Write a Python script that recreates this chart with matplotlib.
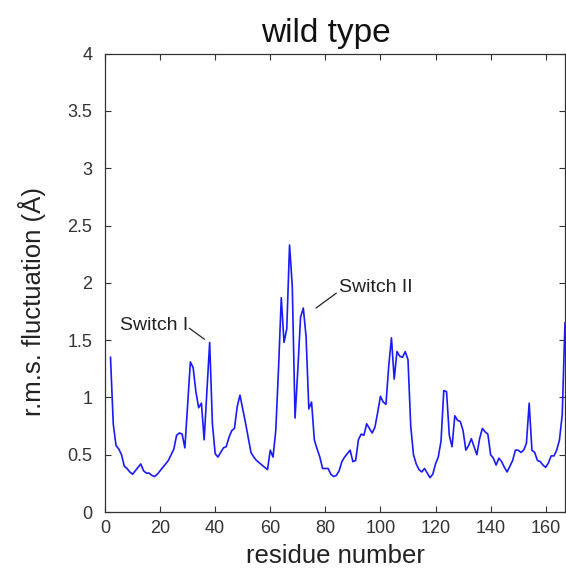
import numpy as np
import matplotlib
matplotlib.use('Agg')
import matplotlib.pyplot as plt

plt.rcParams['font.family'] = ['Liberation Sans', 'DejaVu Sans']

# r.m.s. fluctuation per residue, wild type
residue = np.arange(2, 168)
rmsf = [1.35, 0.77, 0.58, 0.55, 0.50, 0.40, 0.38, 0.35, 0.33, 0.36,
        0.39, 0.42, 0.36, 0.34, 0.34, 0.32, 0.31, 0.33, 0.36, 0.39,
        0.42, 0.45, 0.50, 0.55, 0.67, 0.69, 0.68, 0.56, 0.93, 1.31,
        1.26, 1.05, 0.91, 0.95, 0.63, 1.05, 1.48, 0.77, 0.51, 0.48,
        0.52, 0.56, 0.57, 0.65, 0.71, 0.73, 0.92, 1.02, 0.90, 0.78,
        0.65, 0.52, 0.48, 0.45, 0.43, 0.41, 0.39, 0.37, 0.54, 0.48,
        0.71, 1.25, 1.87, 1.48, 1.60, 2.33, 1.97, 0.82, 1.24, 1.70,
        1.78, 1.53, 0.90, 0.96, 0.63, 0.55, 0.48, 0.38, 0.38, 0.38,
        0.33, 0.31, 0.32, 0.36, 0.44, 0.48, 0.51, 0.54, 0.44, 0.45,
        0.63, 0.68, 0.67, 0.77, 0.73, 0.69, 0.74, 0.87, 1.01, 0.96,
        0.94, 1.27, 1.52, 1.16, 1.40, 1.36, 1.35, 1.40, 1.33, 0.75,
        0.50, 0.42, 0.37, 0.35, 0.38, 0.34, 0.30, 0.33, 0.42, 0.48,
        0.62, 1.06, 1.05, 0.67, 0.57, 0.84, 0.80, 0.79, 0.71, 0.54,
        0.58, 0.64, 0.57, 0.50, 0.64, 0.73, 0.70, 0.68, 0.50, 0.47,
        0.41, 0.47, 0.44, 0.39, 0.35, 0.40, 0.45, 0.54, 0.54, 0.52,
        0.54, 0.60, 0.95, 0.54, 0.52, 0.45, 0.44, 0.41, 0.39, 0.43,
        0.49, 0.49, 0.54, 0.63, 0.85, 1.65]

xticks = np.arange(0, 161, 20)
yticks = np.arange(0, 4.01, 0.5)
ytick_labels = ['0', '0.5', '1', '1.5', '2', '2.5', '3', '3.5', '4']

fig = plt.figure(figsize=(5.66, 5.76), dpi=100)
ax = fig.add_axes([0.1855, 0.111, 0.8127, 0.796])

ax.plot(residue, rmsf, color='#1a1aff', linewidth=1.2)

ax.set_xlim(0, 167)
ax.set_ylim(0, 4)
ax.set_xticks(xticks)
ax.set_yticks(yticks)
ax.set_yticklabels(ytick_labels)
ax.tick_params(direction='in', top=True, right=True, length=4,
               labelsize=13, labelcolor='#333333', color='#333333')
ax.tick_params(axis='y', pad=9)
ax.tick_params(axis='x', pad=6)
for s in ax.spines.values():
    s.set_linewidth(0.9)
    s.set_color('#333333')

ax.set_xlabel('residue number', fontsize=18.5, color='#222222', labelpad=5)
ax.set_ylabel('r.m.s. fluctuation (Å)', fontsize=18.5, color='#222222')
ax.yaxis.set_label_coords(-0.128, 0.46)
ax.set_title('wild type', fontsize=24, color='#111111', pad=8, x=0.48)

# loop labels with short leader lines
ax.text(30.2, 1.587, 'Switch I', fontsize=14, ha='right', va='baseline',
        color='#222222')
ax.annotate('', xy=(36.1, 1.508), xytext=(30.6, 1.604),
            arrowprops=dict(arrowstyle='-', color='#222222', lw=0.9,
                            shrinkA=0, shrinkB=0))
ax.text(85.1, 1.919, 'Switch II', fontsize=14, ha='left', va='baseline',
        color='#222222')
ax.annotate('', xy=(76.6, 1.78), xytext=(84.0, 1.91),
            arrowprops=dict(arrowstyle='-', color='#222222', lw=0.9,
                            shrinkA=0, shrinkB=0))

fig.savefig('out.png', dpi=100)
